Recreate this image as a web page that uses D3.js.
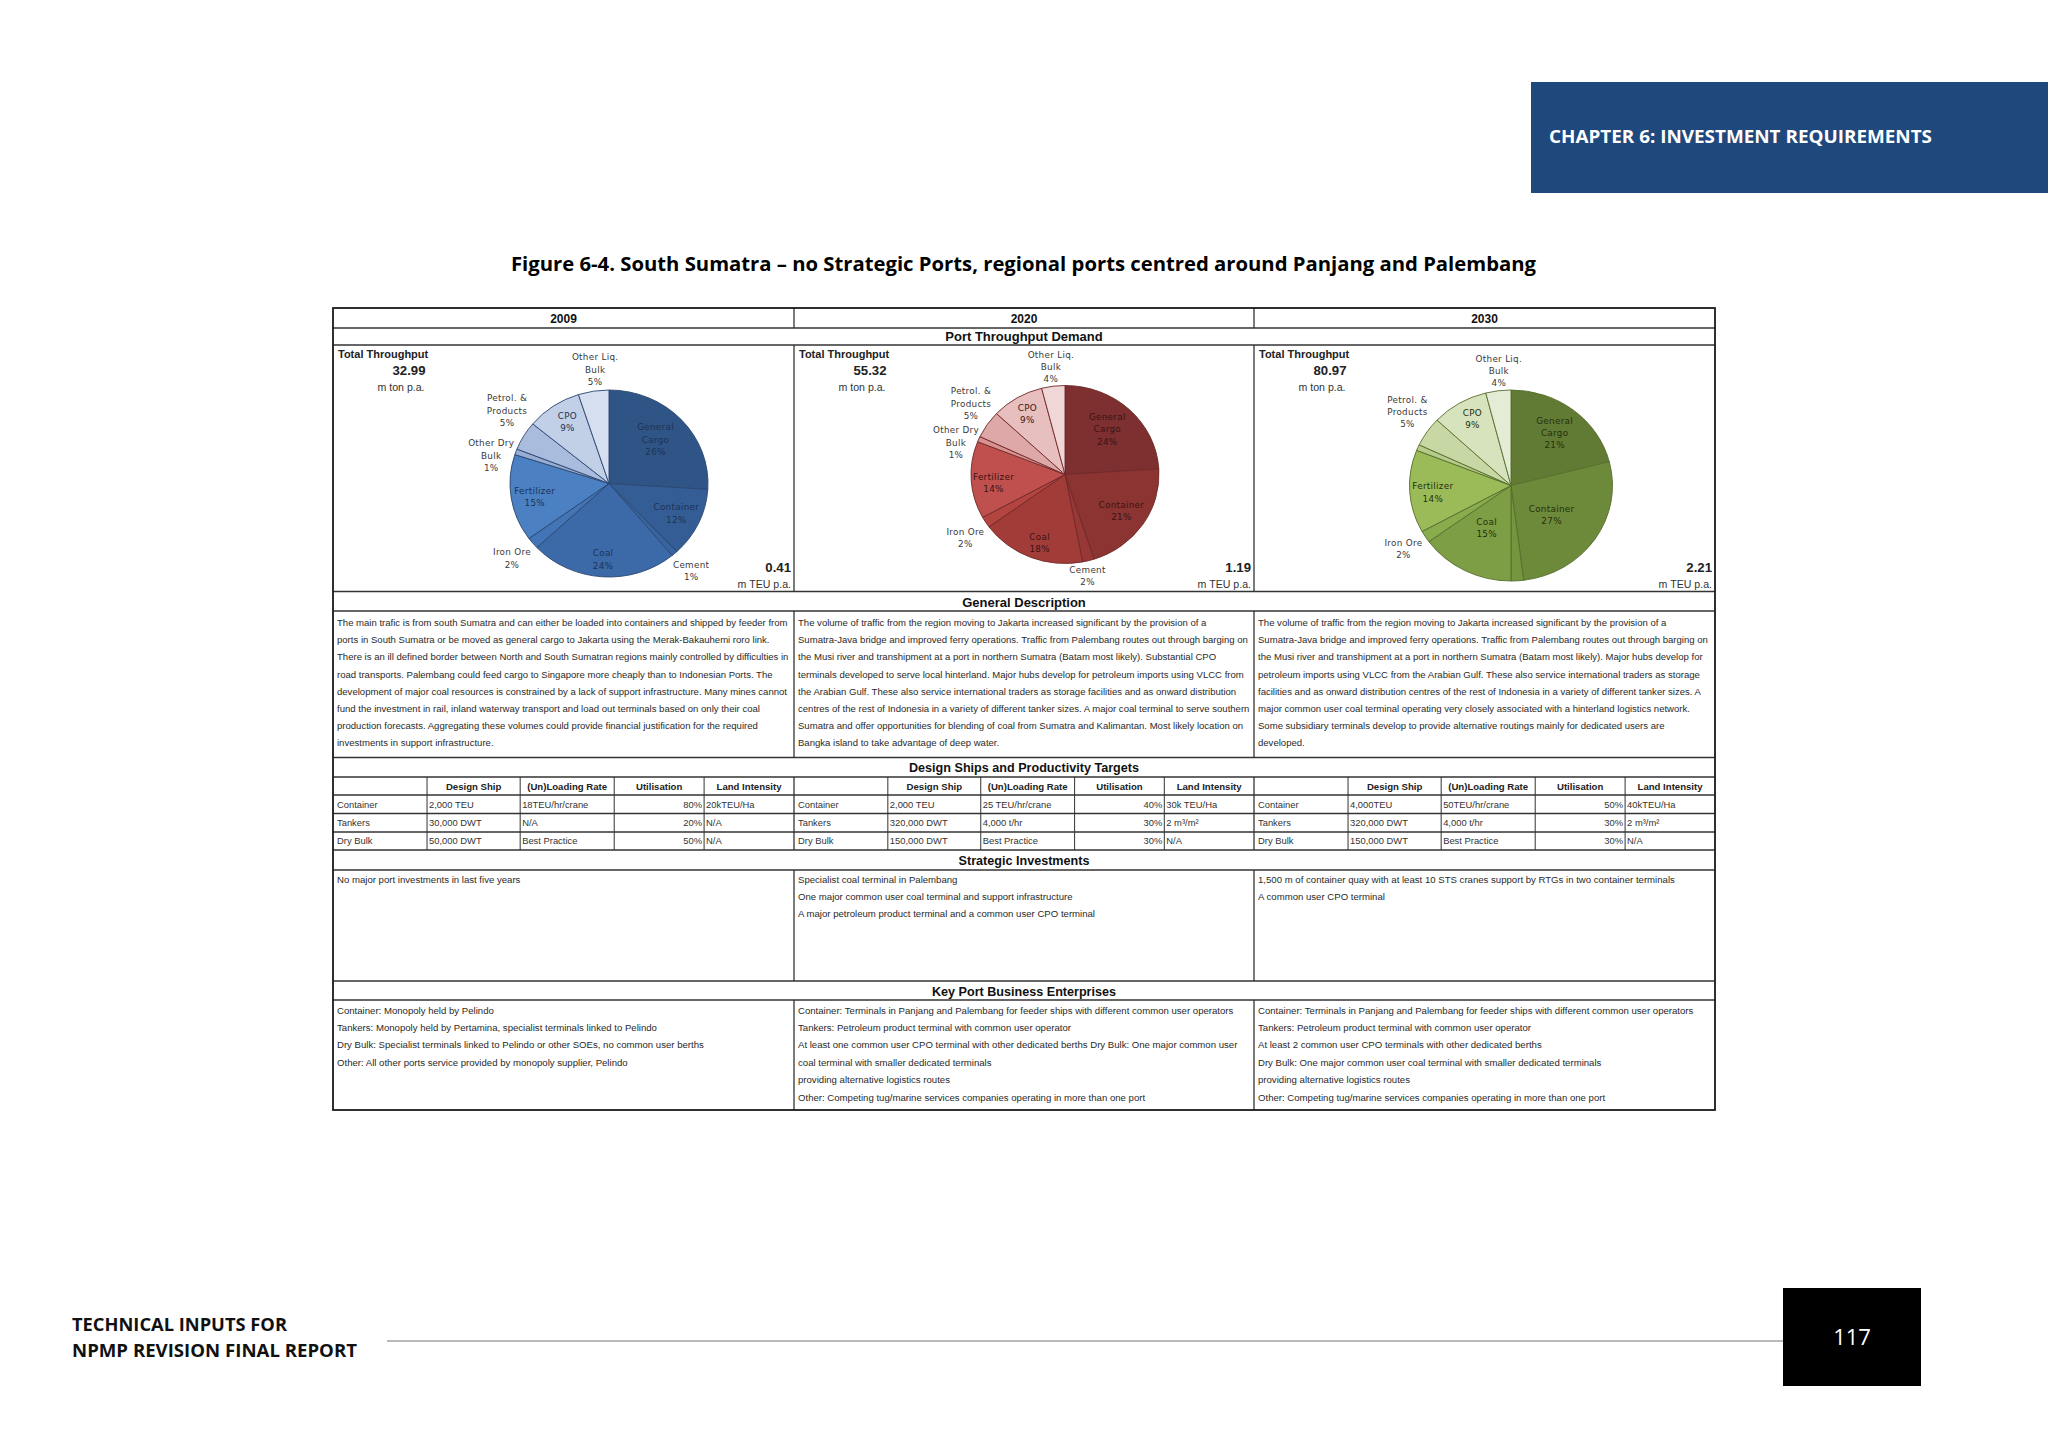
<!DOCTYPE html>
<html><head><meta charset="utf-8">
<script src="https://cdn.jsdelivr.net/npm/d3@7"></script>
<style>body{margin:0;background:#fff}svg{display:block}</style>
</head><body>
<svg id="c" width="2048" height="1448"></svg>
<script>
// ---------------- DATA ----------------
const years = ["2009", "2020", "2030"];
const categories = ["General Cargo","Container","Cement","Coal","Iron Ore","Fertilizer","Other Dry Bulk","Petrol. & Products","CPO","Other Liq. Bulk"];
const categoryLabelLines = [["General","Cargo"],["Container"],["Cement"],["Coal"],["Iron Ore"],["Fertilizer"],["Other Dry","Bulk"],["Petrol. &","Products"],["CPO"],["Other Liq.","Bulk"]];
const share2009 = [26, 12, 1, 24, 2, 15, 1, 5, 9, 5];
const share2020 = [24, 21, 2, 18, 2, 14, 1, 5, 9, 4];
const share2030 = [21, 27, 2, 15, 2, 14, 1, 5, 9, 4];
const labelShown2030 = [true, true, false, true, true, true, false, true, true, true];
const totalTon = ["32.99", "55.32", "80.97"];
const totalTEU = ["0.41", "1.19", "2.21"];

const desc2009 = [
 "The main trafic is from south Sumatra and can either be loaded into containers and shipped by feeder from",
 "ports in South Sumatra or be moved as general cargo to Jakarta using the Merak-Bakauhemi roro link.",
 "There is an ill defined border between North and South Sumatran regions mainly controlled by difficulties in",
 "road transports. Palembang could feed cargo to Singapore more cheaply than to Indonesian Ports. The",
 "development of major coal resources is constrained by a lack of support infrastructure. Many mines cannot",
 "fund the investment in rail, inland waterway transport and load out terminals based on only their coal",
 "production forecasts. Aggregating these volumes could provide financial justification for the required",
 "investments in support infrastructure."];
const desc2020 = [
 "The volume of traffic from the region moving to Jakarta increased significant by the provision of a",
 "Sumatra-Java bridge and improved ferry operations. Traffic from Palembang routes out through barging on",
 "the Musi river and transhipment at a port in northern Sumatra (Batam most likely). Substantial CPO",
 "terminals developed to serve local hinterland. Major hubs develop for petroleum imports using VLCC from",
 "the Arabian Gulf. These also service international traders as storage facilities and as onward distribution",
 "centres of the rest of Indonesia in a variety of different tanker sizes. A major coal terminal to serve southern",
 "Sumatra and offer opportunities for blending of coal from Sumatra and Kalimantan. Most likely location on",
 "Bangka island to take advantage of deep water."];
const desc2030 = [
 "The volume of traffic from the region moving to Jakarta increased significant by the provision of a",
 "Sumatra-Java bridge and improved ferry operations. Traffic from Palembang routes out through barging on",
 "the Musi river and transhipment at a port in northern Sumatra (Batam most likely). Major hubs develop for",
 "petroleum imports using VLCC from the Arabian Gulf. These also service international traders as storage",
 "facilities and as onward distribution centres of the rest of Indonesia in a variety of different tanker sizes. A",
 "major common user coal terminal operating very closely associated with a hinterland logistics network.",
 "Some subsidiary terminals develop to provide alternative routings mainly for dedicated users are",
 "developed."];

const designColumns = ["Design Ship", "(Un)Loading Rate", "Utilisation", "Land Intensity"];
const shipTypes = ["Container", "Tankers", "Dry Bulk"];
const design2009 = [["2,000 TEU","18TEU/hr/crane","80%","20kTEU/Ha"],["30,000 DWT","N/A","20%","N/A"],["50,000 DWT","Best Practice","50%","N/A"]];
const design2020 = [["2,000 TEU","25 TEU/hr/crane","40%","30k TEU/Ha"],["320,000 DWT","4,000 t/hr","30%","2 m³/m²"],["150,000 DWT","Best Practice","30%","N/A"]];
const design2030 = [["4,000TEU","50TEU/hr/crane","50%","40kTEU/Ha"],["320,000 DWT","4,000 t/hr","30%","2 m³/m²"],["150,000 DWT","Best Practice","30%","N/A"]];

const strategic2009 = ["No major port investments in last five years"];
const strategic2020 = ["Specialist coal terminal in Palembang","One major common user coal terminal and support infrastructure","A major petroleum product terminal and a common user CPO terminal"];
const strategic2030 = ["1,500 m of container quay with at least 10 STS cranes support by RTGs in two container terminals","A common user CPO terminal"];

const enterprises2009 = ["Container: Monopoly held by Pelindo","Tankers: Monopoly held by Pertamina, specialist terminals linked to Pelindo","Dry Bulk: Specialist terminals linked to Pelindo or other SOEs, no common user berths","Other: All other ports service provided by monopoly supplier, Pelindo"];
const enterprises2020 = ["Container: Terminals in Panjang and Palembang for feeder ships with different common user operators","Tankers: Petroleum product terminal with common user operator","At least one common user CPO terminal with other dedicated berths Dry Bulk: One major common user","coal terminal with smaller dedicated terminals","providing alternative logistics routes","Other: Competing tug/marine services companies operating in more than one port"];
const enterprises2030 = ["Container: Terminals in Panjang and Palembang for feeder ships with different common user operators","Tankers: Petroleum product terminal with common user operator","At least 2 common user CPO terminals with other dedicated berths","Dry Bulk: One major common user coal terminal with smaller dedicated terminals","providing alternative logistics routes","Other: Competing tug/marine services companies operating in more than one port"];

// ---------------- STYLE / LAYOUT ----------------
const blues  = ["#2f5486","#335d94","#3864a0","#3c6aa9","#4375b6","#4b80c3","#98add3","#aabcdd","#c1cfe7","#d6dff0"];
const reds   = ["#7e2f2f","#8b3432","#973836","#a23c39","#b3443f","#c0504d","#d79290","#dda8a7","#e7bfbe","#f0d7d7"];
const greens = ["#627b34","#6d8a3a","#75953f","#7d9e44","#89ad4d","#9bbb59","#b5cb8a","#c7d8a5","#d6e3bd","#e4ecd6"];
// label block centres, as fractions of the pie radii (x of rx, y of ry)
const labelPos2009 = [[0.47,-0.47],[0.68,0.32],[0.83,0.93],[-0.06,0.81],[-0.98,0.80],[-0.75,0.14],[-1.19,-0.30],[-1.03,-0.78],[-0.42,-0.66],[-0.14,-1.22]];
const labelPos2020 = [[0.45,-0.51],[0.60,0.41],[0.24,1.14],[-0.27,0.77],[-1.06,0.71],[-0.76,0.09],[-1.16,-0.36],[-1.00,-0.80],[-0.40,-0.68],[-0.15,-1.21]];
const labelPos2030 = [[0.43,-0.55],[0.40,0.31],[0,0],[-0.24,0.44],[-1.06,0.66],[-0.77,0.07],[0,0],[-1.02,-0.77],[-0.38,-0.70],[-0.12,-1.20]];

const FONT = "'Liberation Sans', Arial, Helvetica, sans-serif";
const TITLEFONT = "'Open Sans', 'Noto Sans', sans-serif";
const LINE = "#333";
const X = [333, 794, 1254, 1715];
const Y = {top:308, year:328, ptd:345, pie:591.5, gd:611, text:757.5, dsh:777, colh:795, rows:[795,813.5,832,850], sih:870, si:981, kph:1000, bot:1110};

const svg = d3.select("#c");

function line(x1,y1,x2,y2,w,c){ svg.append("line").attr("x1",x1).attr("y1",y1).attr("x2",x2).attr("y2",y2).attr("stroke",c||LINE).attr("stroke-width",w||1.1); }
function text(x,y,s,o){
  o=o||{};
  const t = svg.append("text").attr("x",x).attr("y",y).text(s)
    .attr("font-family",o.family||FONT).attr("font-size",o.size||9.2)
    .attr("font-weight",o.weight||"normal").attr("fill",o.fill||"#222")
    .attr("text-anchor",o.anchor||"start");
  if(o.ls) t.attr("letter-spacing",o.ls);
  if(o.fit){ const w=t.node().getComputedTextLength(); if(w>o.fit) t.attr("textLength",o.fit).attr("lengthAdjust","spacingAndGlyphs"); }
  if(o.len) t.attr("textLength",o.len).attr("lengthAdjust","spacingAndGlyphs");
  return t;
}

// ---------------- PAGE HEADER / FOOTER ----------------
svg.append("rect").attr("x",1531).attr("y",82).attr("width",517).attr("height",111).attr("fill","#1f487c");
text(1549,143,"CHAPTER 6: INVESTMENT REQUIREMENTS",{family:TITLEFONT,size:17,weight:"bold",fill:"#fff",len:383});
text(511,271,"Figure 6-4. South Sumatra – no Strategic Ports, regional ports centred around Panjang and Palembang",{family:TITLEFONT,size:20,weight:"bold",fill:"#000",len:1025});
text(72,1331,"TECHNICAL INPUTS FOR",{family:TITLEFONT,size:17,weight:"bold",fill:"#111",len:215});
text(72,1357,"NPMP REVISION FINAL REPORT",{family:TITLEFONT,size:17,weight:"bold",fill:"#111",len:285});
line(387,1341,1783,1341,1.2,"#777");
svg.append("rect").attr("x",1783).attr("y",1288).attr("width",138).attr("height",98).attr("fill","#000");
text(1852,1345,"117",{family:TITLEFONT,size:22,fill:"#fff",anchor:"middle"});

// ---------------- TABLE GRID ----------------
[Y.year,Y.ptd,Y.pie,Y.gd,Y.text,Y.dsh,Y.colh,Y.rows[1],Y.rows[2],Y.rows[3],Y.sih,Y.si,Y.kph].forEach(y=>line(X[0],y,X[3],y,1.3));
const vSegs = [[Y.top,Y.year],[Y.ptd,Y.pie],[Y.gd,Y.text],[Y.dsh,Y.rows[3]],[Y.sih,Y.si],[Y.kph,Y.bot]];
[X[1],X[2]].forEach(x=>vSegs.forEach(s=>line(x,s[0],x,s[1],1.3)));
const subFrac = [0.204,0.202,0.204,0.195];
for(let c=0;c<3;c++){
  let x=X[c]; const w=X[c+1]-X[c];
  subFrac.forEach(f=>{ x+=f*w; line(x,Y.dsh,x,Y.rows[3],1); });
}
svg.append("rect").attr("x",X[0]).attr("y",Y.top).attr("width",X[3]-X[0]).attr("height",Y.bot-Y.top)
  .attr("fill","none").attr("stroke","#1a1a1a").attr("stroke-width",1.8);

// headers
years.forEach((yr,i)=>text((X[i]+X[i+1])/2,323,yr,{size:12,weight:"bold",anchor:"middle",fill:"#111"}));
const midX = (X[0]+X[3])/2;
text(midX,341,"Port Throughput Demand",{size:13,weight:"bold",anchor:"middle",fill:"#111"});
text(midX,606.5,"General Description",{size:13,weight:"bold",anchor:"middle",fill:"#111"});
text(midX,772,"Design Ships and Productivity Targets",{size:12.6,weight:"bold",anchor:"middle",fill:"#111"});
text(midX,865,"Strategic Investments",{size:12.6,weight:"bold",anchor:"middle",fill:"#111"});
text(midX,995.5,"Key Port Business Enterprises",{size:12.6,weight:"bold",anchor:"middle",fill:"#111"});

// ---------------- PIES ----------------
const pies = [
  {values:share2009, colors:blues, stroke:"#2a4671", inText:"#1c3355", cx:609, cy:483.5, rx:99, ry:93.5, pos:labelPos2009, show:share2009.map(()=>true)},
  {values:share2020, colors:reds, stroke:"#6f2828", inText:"#3a1414", cx:1065, cy:474.5, rx:94, ry:89, pos:labelPos2020, show:share2020.map(()=>true)},
  {values:share2030, colors:greens, stroke:"#566d2c", inText:"#25300f", cx:1511, cy:485.5, rx:101.5, ry:95.5, pos:labelPos2030, show:labelShown2030}
];
const pieGen = d3.pie().sort(null).value(d=>d);
pies.forEach((p,pi)=>{
  const arcs = pieGen(p.values);
  const arcGen = d3.arc().innerRadius(0).outerRadius(p.rx);
  const g = svg.append("g").attr("transform",`translate(${p.cx},${p.cy}) scale(1,${p.ry/p.rx})`);
  g.selectAll("path").data(arcs).join("path").attr("d",arcGen)
    .attr("fill",(d,i)=>p.colors[i]).attr("stroke",p.stroke).attr("stroke-width",0.9)
    .attr("vector-effect","non-scaling-stroke");
  arcs.forEach((a,i)=>{
    if(!p.show[i]) return;
    const lx=p.cx+p.rx*p.pos[i][0], ly=p.cy+p.ry*p.pos[i][1];
    const outside = Math.hypot(p.pos[i][0],p.pos[i][1])>1;
    const lines = categoryLabelLines[i].concat([p.values[i]+"%"]);
    const lh=12.3, y0=ly-(lines.length-1)*lh/2+3.2;
    lines.forEach((s,k)=>text(lx,y0+k*lh,s,{family:"'DejaVu Sans', sans-serif",size:8.8,anchor:"middle",fill:outside?"#3a3a3a":p.inText,ls:0.3}));
  });
  const x0=X[pi], x1=X[pi+1];
  text(x0+5,357.5,"Total Throughput",{size:11,weight:"bold",fill:"#222"});
  text(x0+76,374.5,totalTon[pi],{size:13.2,weight:"bold",anchor:"middle",fill:"#222"});
  text(x0+68,390.5,"m ton p.a.",{size:10.6,anchor:"middle",fill:"#333"});
  text(x1-3,572,totalTEU[pi],{size:13.2,weight:"bold",anchor:"end",fill:"#222"});
  text(x1-3,588,"m TEU p.a.",{size:10.6,anchor:"end",fill:"#333"});
});

// ---------------- TEXT BLOCKS ----------------
function block(lines, col, y0, lh, size){
  lines.forEach((s,k)=>text(X[col]+4,y0+k*lh,s,{size:size,fill:"#2a2a2a",fit:X[col+1]-X[col]-7}));
}
[desc2009,desc2020,desc2030].forEach((d,i)=>block(d,i,626,17.2,9.55));
[strategic2009,strategic2020,strategic2030].forEach((d,i)=>block(d,i,882.5,17.4,9.6));
[enterprises2009,enterprises2020,enterprises2030].forEach((d,i)=>block(d,i,1013.5,17.4,9.6));

// ---------------- DESIGN TABLE ----------------
[design2009,design2020,design2030].forEach((tbl,c)=>{
  const w=X[c+1]-X[c];
  const edges=[X[c]]; subFrac.forEach(f=>edges.push(edges[edges.length-1]+f*w)); edges.push(X[c+1]);
  designColumns.forEach((h,j)=>text((edges[j+1]+edges[j+2])/2,789.5,h,{size:9.6,weight:"bold",anchor:"middle",fill:"#222",fit:edges[j+2]-edges[j+1]-4}));
  shipTypes.forEach((st,r)=>{
    const yb=(Y.rows[r]+Y.rows[r+1])/2+3.4;
    text(edges[0]+4,yb,st,{size:9.4,fill:"#333"});
    tbl[r].forEach((v,j)=>{
      if(j===2) text(edges[j+2]-2,yb,v,{size:9.4,anchor:"end",fill:"#333"});
      else text(edges[j+1]+2,yb,v,{size:9.4,fill:"#333",fit:edges[j+2]-edges[j+1]-4});
    });
  });
});
</script>
</body></html>
